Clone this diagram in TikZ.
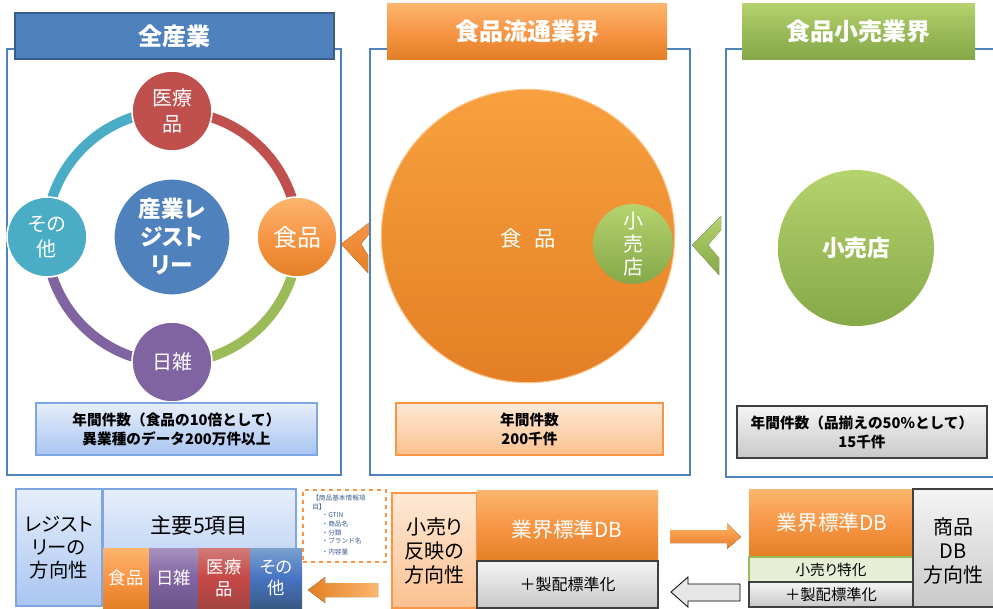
\documentclass[tikz,border=0pt]{standalone}
\usepackage{fontspec}
\setmainfont{Noto Sans CJK JP}[RawFeature=+palt]
\newfontfamily\jpfix{Noto Sans CJK JP}
\usetikzlibrary{fit}
\definecolor{cblue}{HTML}{4F81BD}
\definecolor{cblueD}{HTML}{385D8A}
\definecolor{cred}{HTML}{C0504D}
\definecolor{cteal}{HTML}{4BACC6}
\definecolor{cpurple}{HTML}{8064A2}
\definecolor{cgreen}{HTML}{9BBB59}
\definecolor{corange}{HTML}{F79646}
\definecolor{corangeD}{HTML}{E37F24}
\definecolor{corangeL}{HTML}{FBB66E}
\definecolor{cgreenL}{HTML}{B5D36E}
\definecolor{cgreenD}{HTML}{86A848}
\definecolor{lbT}{HTML}{E6EEFB}
\definecolor{lbB}{HTML}{A9C5F1}
\definecolor{lbD}{HTML}{7EA6E0}
\definecolor{loT}{HTML}{FDE9D6}
\definecolor{loB}{HTML}{FBC18F}
\definecolor{gT}{HTML}{F4F4F4}
\definecolor{gB}{HTML}{C9C9C9}
\definecolor{gD}{HTML}{404040}
\definecolor{notec}{HTML}{3F5F8F}
\newcommand\fsz[2]{\fontsize{#1pt}{#2pt}\selectfont}
\begin{document}
\begin{tikzpicture}[x=0.75pt,y=-0.75pt,
  panel/.style={draw=cblue, line width=1.1pt},
  hdrtext/.style={text=white, font=\fsz{18}{21}\bfseries},
  ccircle/.style={circle, inner sep=0pt, minimum size=60pt, draw=white, line width=1.2pt, text=white, align=center, font=\fsz{15}{19}},
  ringarc/.style={line width=7.5pt},
  countbox/.style={inner sep=0pt, align=center, font=\jpfix\fsz{11}{14.2}\bfseries},
  lbbox/.style={inner sep=0pt, top color=lbT, bottom color=lbB, draw=lbD, line width=0.8pt},
  lobox/.style={inner sep=0pt, top color=loT, bottom color=loB, draw=corange, line width=0.8pt},
  gbox/.style={inner sep=0pt, top color=gT, bottom color=gB, draw=gD, line width=0.8pt},
  orbox/.style={inner sep=0pt, top color=corangeL, bottom color=corangeD, middle color=corange},
  blk/.style={inner sep=0pt, text=white, align=center, font=\fsz{13}{16}},
  bigtext/.style={align=center, font=\fsz{15}{18}}
]
\useasboundingbox (0,0) rectangle (993,608);
\fill[white] (0,0) rectangle (993,608);

% ---------------- Panel 1 ----------------
\node[panel, inner sep=0pt, fit={(7,49)(341,475)}] (p1) {};
\node[inner sep=0pt, fill=cblue, draw=cblueD, line width=1.5pt, fit={(15,13)(334,59)}] (h1) {};
\node[hdrtext] at (h1.center) {全産業};
\coordinate (ringc) at (172,237);
\draw[ringarc, cteal]   (ringc) ++(180:126) arc[start angle=180, end angle=270, radius=126];
\draw[ringarc, cred]    (ringc) ++(-90:126) arc[start angle=-90, end angle=0, radius=126];
\draw[ringarc, cgreen]  (ringc) ++(0:126) arc[start angle=0, end angle=90, radius=126];
\draw[ringarc, cpurple] (ringc) ++(90:126) arc[start angle=90, end angle=180, radius=126];
\node[ccircle, fill=cred] (cmed) at (172,111) {医療\\品};
\node[ccircle, fill=cteal] (coth) at (47,237) {その\\他};
\node[ccircle, fill=cpurple] (cnis) at (172,362) {日雑};
\node[ccircle, top color=corangeL, bottom color=corangeD, middle color=corange, font=\fsz{18}{21}] (cfood) at (297,237) {食品};
\node[circle, inner sep=0pt, minimum size=86pt, fill=cblue, text=white, align=center, font=\fsz{17}{21}\bfseries] (creg) at (ringc) {産業レ\\ジスト\\リー};
\node[lbbox, fit={(36,403)(317,455)}] (b1) {};
\node[countbox] at (b1.center) {年間件数（食品の10倍として）\\異業種のデータ200万件以上};

% chevron orange
\fill[top color=corange, bottom color=corangeD] (341,244) -- (370,222) -- (370,233) -- (361,244) -- (368,255) -- (368,273) -- cycle;

% ---------------- Panel 2 ----------------
\node[panel, inner sep=0pt, fit={(370,49)(690,475)}] (p2) {};
\node[orbox, fit={(387,3)(667,59)}] (h2) {};
\node[hdrtext] at (h2.center) {食品流通業界};
\node[circle, inner sep=0pt, minimum size=220pt, top color=corange!90!yellow, bottom color=corangeD, draw=corangeL!80!white, line width=0.8pt] (cbig) at (528,236) {};
\node[text=white, font=\fsz{16}{19}] (tfood) at (528,238) {食\hspace{0.6em}品};
\node[circle, inner sep=0pt, minimum size=60pt, top color=cgreenL, bottom color=cgreenD, text=white, align=center, font=\fsz{15}{17}] (csm) at (633,244) {小\\売\\店};
\node[lobox, fit={(396,403)(663,455)}] (b2) {};
\node[countbox] at (b2.center) {年間件数\\200千件};

% chevron green
\fill[top color=cgreenL, bottom color=cgreenD] (692,245) -- (721,216) -- (721,230) -- (708,245) -- (719,258) -- (719,275) -- cycle;

% ---------------- Panel 3 ----------------
\draw[panel] (1000,49) -- (726,49) -- (726,477) -- (1000,477);
\node[inner sep=0pt, top color=cgreenL, bottom color=cgreenD, middle color=cgreen, fit={(742,3)(975,59)}] (h3) {};
\node[hdrtext] at (h3.center) {食品小売業界};
\node[circle, inner sep=0pt, minimum size=117pt, top color=cgreenL, bottom color=cgreenD, text=white, font=\fsz{17}{20}\bfseries] (cret) at (856,248) {小売店};
\node[gbox, fit={(737,406)(987,458)}] (b3) {};
\node[countbox] at (b3.center) {年間件数（品揃えの50\%として）\\15千件};

% ---------------- Bottom row ----------------
\node[lbbox, fit={(16,489)(102,606)}] (r1) {};
\node[bigtext, font=\fsz{14.5}{17.5}] at (r1.center) {レジスト\\リーの\\方向性};
\node[lbbox, fit={(103,489)(296,606)}] (r2) {};
\node[font=\fsz{16}{19}] (t5) at (199,525) {主要5項目};
\node[blk, top color=corangeL, bottom color=corangeD, middle color=corange, fit={(103,548)(149,608)}] (k1) {};
\node[blk] at (k1.center) {食品};
\node[blk, top color=cpurple!70!white, bottom color=cpurple!85!black, middle color=cpurple, fit={(149,548)(198,608)}] (k2) {};
\node[blk] at (k2.center) {日雑};
\node[blk, top color=cred!75!white, bottom color=cred!85!black, middle color=cred!90!red, fit={(198,548)(250,608)}] (k3) {};
\node[blk] at (k3.center) {医療\\品};
\node[blk, top color=cblue!75!white, bottom color=cblue!70!black, middle color=cblue!90!blue, fit={(250,548)(302,608)}] (k4) {};
\node[blk] at (k4.center) {その\\他};

\node[draw=corange, dashed, line width=0.8pt, inner sep=0pt, fit={(303,490)(386,562)}] (note) {};
\node[anchor=north west, inner sep=0pt, align=left, text=notec, font=\jpfix\fsz{5}{6.4}] (notet) at (312,495) {【商品基本情報項\\目】\\\hspace{7pt}・GTIN\\\hspace{7pt}・商品名\\\hspace{7pt}・分類\\\hspace{7pt}・ブランド名\\[2pt]\hspace{7pt}・内容量};

% orange arrow left
\fill[left color=corangeD, right color=corangeL] (308,590) -- (325,577) -- (325,583) -- (378,583) -- (378,597) -- (325,597) -- (325,603) -- cycle;

\node[lobox, fit={(392,493)(477,608)}] (r3) {};
\node[bigtext, font=\fsz{15}{18}] at (r3.center) {小売り\\反映の\\方向性};
\node[orbox, fit={(477,490)(658,562)}] (db1) {};
\node[text=white, font=\fsz{15.5}{18}] at (567,530) {業界標準DB};
\node[gbox, fit={(477,561)(658,608)}] (s1) {};
\node[font=\fsz{12}{14}] at (s1.center) {＋製配標準化};

% arrows middle
\fill[top color=corangeL, bottom color=corangeD, middle color=corange] (670,530) -- (727,530) -- (727,523) -- (741,537) -- (727,549) -- (727,543) -- (670,543) -- cycle;
\draw[fill=gB!45!white, draw=black, line width=0.6pt] (671,592) -- (688,577) -- (688,584) -- (740,584) -- (740,601) -- (688,601) -- (688,607) -- cycle;

\node[orbox, fit={(749,489)(916,557)}] (db2) {};
\node[text=white, font=\fsz{15.5}{18}] at (832,523) {業界標準DB};
\node[inner sep=0pt, fill=cgreen!25!white, draw=cgreen, line width=0.8pt, fit={(749,557)(913,582)}] (s2) {};
\node[font=\fsz{11}{13}] at (s2.center) {小売り特化};
\node[gbox, fit={(749,582)(913,607)}] (s3) {};
\node[font=\fsz{11.5}{13}] at (s3.center) {＋製配標準化};
\node[gbox, fit={(913,489)(997,607)}] (r4) {};
\node[bigtext, font=\fsz{15}{18}] at (953,551) {商品\\DB\\方向性};
\end{tikzpicture}
\end{document}
